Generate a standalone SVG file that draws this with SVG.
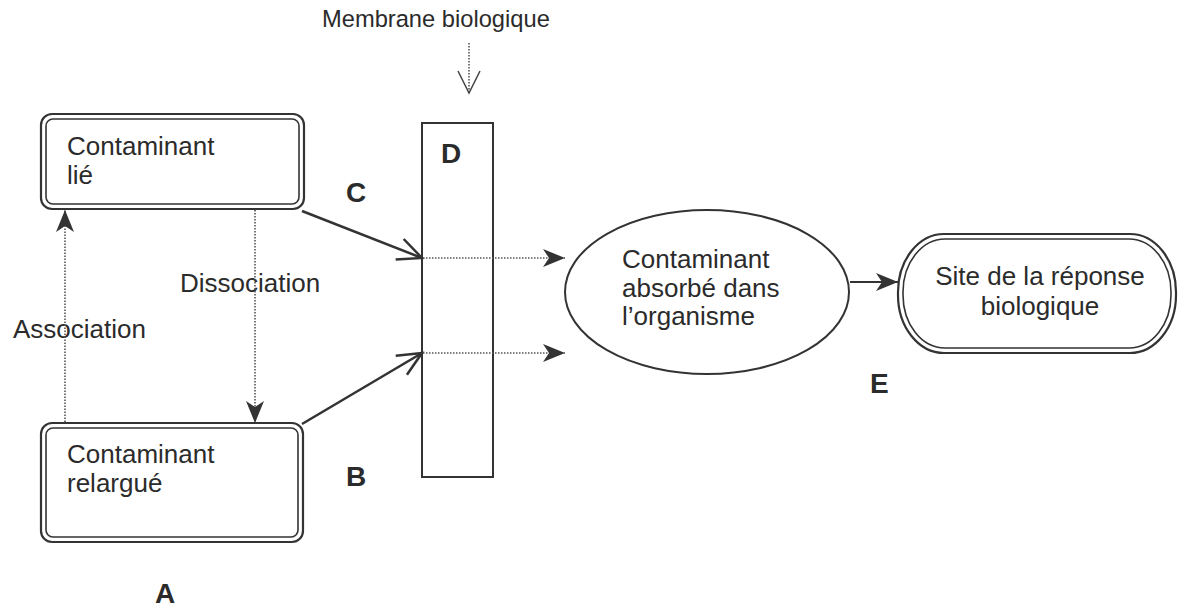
<svg xmlns="http://www.w3.org/2000/svg" width="1179" height="609" viewBox="0 0 1179 609">
<style>
.t{font-family:"Liberation Sans",Arial,sans-serif;font-size:26px;fill:#2b2b2b}
.b{font-family:"Liberation Sans",Arial,sans-serif;font-size:28px;font-weight:bold;fill:#2b2b2b}
.o{fill:#fff;stroke:#333;stroke-width:2.2}
.i{fill:none;stroke:#333;stroke-width:1.6}
.solid{fill:none;stroke:#333;stroke-width:2.5}
.dot{fill:none;stroke:#555;stroke-width:1.6;stroke-dasharray:1.5 1.5}
</style>
<defs>
<marker id="fa" markerUnits="userSpaceOnUse" markerWidth="24" markerHeight="20" refX="22" refY="9" orient="auto">
<path d="M0,0 L22,9 L0,18 L6,9 z" fill="#333"/>
</marker>
<marker id="oa" markerUnits="userSpaceOnUse" markerWidth="32" markerHeight="32" refX="28" refY="14" orient="auto">
<path d="M4,3 L28,14 L4,25" fill="none" stroke="#333" stroke-width="2.5"/>
</marker>
<marker id="ov" markerUnits="userSpaceOnUse" markerWidth="30" markerHeight="30" refX="24" refY="12" orient="auto">
<path d="M2,1 L24,12 L2,23" fill="none" stroke="#444" stroke-width="1.5"/>
</marker>
</defs>
<rect width="1179" height="609" fill="#fff"/>

<g id="lie">
<rect class="o" x="41" y="114" width="263" height="95" rx="11"/>
<rect class="i" x="46" y="119" width="253" height="85" rx="7"/>
<text class="t" x="67" y="155">Contaminant</text>
<text class="t" x="67" y="184">lié</text>
</g>

<g id="relargue">
<rect class="o" x="41" y="423" width="262" height="119" rx="11"/>
<rect class="i" x="46" y="428" width="252" height="109" rx="7"/>
<text class="t" x="67" y="463">Contaminant</text>
<text class="t" x="67" y="492">relargué</text>
</g>

<g id="membrane">
<rect x="422" y="123" width="71" height="354" fill="#fff" stroke="#333" stroke-width="2"/>
<text class="t" x="322" y="27" style="font-size:23.7px">Membrane biologique</text>
</g>

<g id="absorbe">
<ellipse cx="707" cy="292" rx="142" ry="82" fill="#fff" stroke="#333" stroke-width="2"/>
<text class="t" x="622" y="268">Contaminant</text>
<text class="t" x="622" y="297">absorbé dans</text>
<text class="t" x="622" y="325">l’organisme</text>
</g>

<g id="site">
<rect class="o" x="898" y="234" width="278" height="119" rx="46" ry="58"/>
<rect class="i" x="903" y="239" width="268" height="109" rx="42" ry="53"/>
<text class="t" x="1040" y="285" text-anchor="middle">Site de la réponse</text>
<text class="t" x="1040" y="315" text-anchor="middle">biologique</text>
</g>

<g id="labels">
<text class="b" x="346" y="202">C</text>
<text class="b" x="441" y="163">D</text>
<text class="b" x="346" y="486">B</text>
<text class="b" x="870" y="393">E</text>
<text class="b" x="155" y="603">A</text>
<text class="t" x="180" y="292">Dissociation</text>
<text class="t" x="13" y="338">Association</text>
</g>

<g id="connectors">
<line class="dot" x1="469" y1="43" x2="469" y2="93" marker-end="url(#ov)"/>
<line class="solid" x1="302" y1="211" x2="422" y2="258" marker-end="url(#oa)"/>
<line class="solid" x1="302" y1="424" x2="422" y2="353" marker-end="url(#oa)"/>
<line class="dot" x1="423" y1="258" x2="565" y2="258" marker-end="url(#fa)"/>
<line class="dot" x1="423" y1="353" x2="565" y2="353" marker-end="url(#fa)"/>
<line x1="850" y1="282" x2="898" y2="282" stroke="#333" stroke-width="1.8" marker-end="url(#fa)"/>
<line class="dot" x1="65" y1="422" x2="65" y2="210" marker-end="url(#fa)"/>
<line class="dot" x1="255" y1="210" x2="255" y2="423" marker-end="url(#fa)"/>
</g>
</svg>
